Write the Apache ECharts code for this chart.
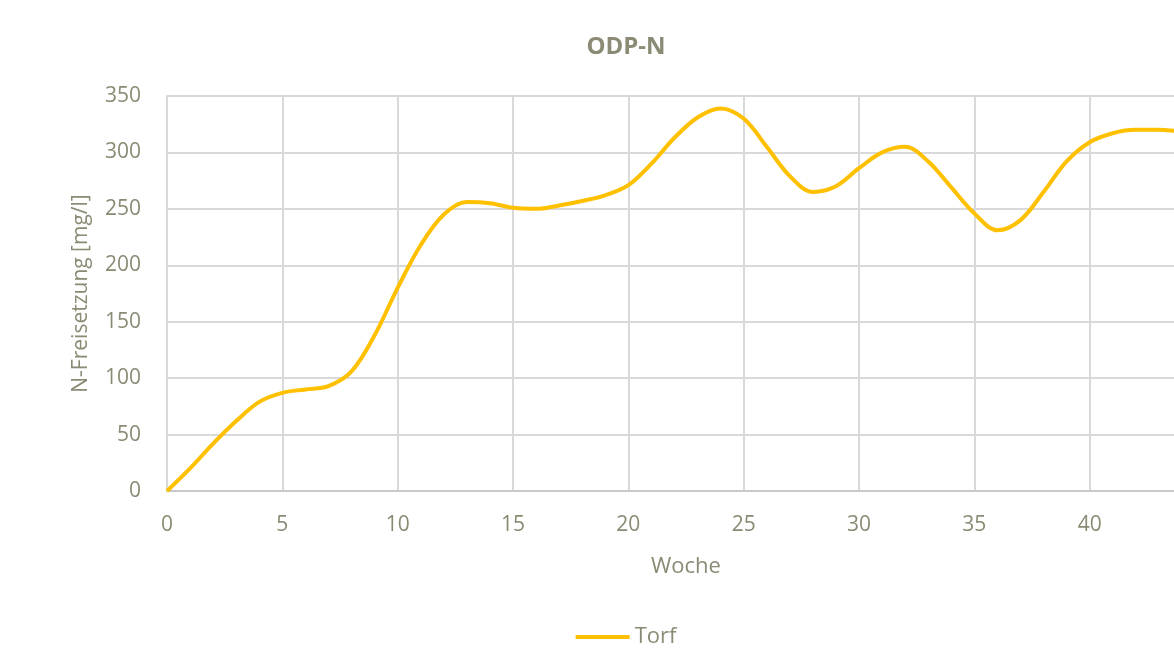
<!DOCTYPE html>
<html>
<head>
<meta charset="utf-8">
<script src="https://cdn.jsdelivr.net/npm/echarts@6/dist/echarts.min.js"></script>
<style>
html,body{margin:0;padding:0;background:#fff;overflow:hidden;width:1174px;height:659px;}
#c{width:1252px;height:659px;}
</style>
</head>
<body>
<div id="c"></div>
<script>
const titleText = 'ODP-N';
const seriesName = 'Torf';
const xName = 'Woche';
const yName = 'N-Freisetzung [mg/l]';
// Werte (wöchentlich)
const weeks = [0, 1, 2, 3, 4, 5, 6, 7, 8, 9, 10, 11, 12, 13, 14, 15, 16, 17, 18, 19, 20, 21, 22,
               23, 24, 25, 26, 27, 28, 29, 30, 31, 32, 33, 34, 35, 36, 37, 38, 39, 40, 41, 42, 43, 44, 45];
const torf  = [0, 20, 42, 62, 79, 87, 90, 93, 106, 138, 180, 218, 245, 256, 255, 251, 250, 253, 257, 262, 271, 290, 313,
               331, 339, 330, 305, 279, 265, 270, 286, 300, 305, 292, 269, 246, 231, 240, 265, 292, 309, 317, 320, 320, 319, 319];

const txt = '#8b8a74';
const font = '"Open Sans", "Noto Sans", sans-serif';
const chart = echarts.init(document.getElementById('c'));
chart.setOption({
  animation: false,
  backgroundColor: '#fff',
  title: {
    text: titleText, left: 'center', top: 30,
    textStyle: { color: txt, fontSize: 24, fontWeight: 'bold', fontFamily: font }
  },
  legend: {
    bottom: 6, left: 'center',
    icon: 'rect', itemWidth: 54, itemHeight: 4,
    textStyle: { color: txt, fontSize: 22, fontFamily: font },
    data: [seriesName]
  },
  grid: { left: 167, right: 47, top: 96, bottom: 168, containLabel: false },
  xAxis: {
    type: 'value', min: 0, max: 45, interval: 5,
    name: xName, nameLocation: 'middle', nameGap: 65,
    nameTextStyle: { color: txt, fontSize: 22, fontFamily: font },
    axisLine: { lineStyle: { color: '#c8c8c8', width: 2 } },
    axisTick: { show: false },
    axisLabel: { color: txt, fontSize: 21, margin: 24, fontFamily: font },
    splitLine: { lineStyle: { color: '#d9d9d9', width: 2 } }
  },
  yAxis: {
    type: 'value', min: 0, max: 350, interval: 50,
    name: yName, nameLocation: 'middle', nameGap: 75,
    nameTextStyle: { color: txt, fontSize: 21, fontFamily: font },
    axisLine: { show: true, lineStyle: { color: '#d9d9d9', width: 2 } },
    axisTick: { show: false },
    axisLabel: { color: txt, fontSize: 21, margin: 26, fontFamily: font },
    splitLine: { lineStyle: { color: '#d9d9d9', width: 2 } }
  },
  series: [{
    name: seriesName, type: 'line',
    data: weeks.map((w, i) => [w, torf[i]]),
    smooth: 0.35, showSymbol: false, symbol: 'none',
    lineStyle: { color: '#FFC000', width: 4 },
    itemStyle: { color: '#FFC000' }
  }]
});
</script>
</body>
</html>
